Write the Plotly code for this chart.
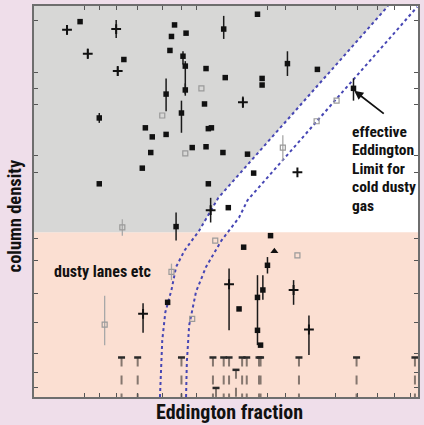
import numpy as np
import plotly.graph_objects as go

# Axis ranges: log Eddington fraction (x) and log column density (y)
X_MIN, X_MAX = -4.0, 1.0
Y_MIN, Y_MAX = 20.0, 24.75
NH_DUSTY = 22.0  # below this: dusty lanes etc.

# Effective Eddington limit for cold dusty gas (two dust/gas cases)
lim1_x = [-2.36, -2.33, -2.29, -2.21, -2.15, -2.04, -1.85, -1.60, 0.61]
lim1_y = [20.00, 20.69, 21.03, 21.30, 21.58, 21.78, 22.02, 22.42, 24.75]
lim2_x = [-2.02, -2.01, -1.98, -1.89, -1.76, -1.56, -1.33, -1.22, 0.99]
lim2_y = [20.00, 20.42, 20.87, 21.28, 21.58, 21.90, 22.18, 22.39, 24.74]

# Detections shown as filled squares: x, y, +err, -err
sq_x = [-3.40, -2.83, -3.15, -3.15, -2.17, -2.21, -2.02, -2.23, -2.06, -2.03,
        -2.03, -1.76, -2.28, -1.78, -2.08, -2.55, -2.46, -2.28, -2.48, -2.59,
        -1.94, -1.76, -1.73, -1.73, -1.09, -1.53, -0.70, -0.31, -1.51, -1.03,
        -1.03, -1.69, -1.54, -1.22, -1.14, -1.47, 0.16, -2.15, -0.92, -1.27,
        -0.96, -1.33, -2.26, -1.09, -1.02, -1.09, -1.05]
sq_y = [24.56, 24.10, 23.39, 22.59, 24.52, 24.38, 24.42, 24.21, 24.14, 24.02,
        23.73, 23.99, 23.68, 23.56, 23.45, 23.27, 23.16, 23.19, 22.97, 22.78,
        23.03, 23.04, 23.26, 22.59, 24.65, 24.47, 24.05, 23.98, 23.88, 23.87,
        23.79, 23.27, 22.97, 22.95, 22.72, 22.30, 23.75, 22.07, 21.96, 21.82,
        21.60, 21.07, 21.15, 21.21, 21.30, 20.81, 20.63]
sq_up = [0, 0, .06, 0, 0, 0, 0, 0, .06, .06,
         .08, 0, .19, 0, .15, 0, 0, 0, 0, 0,
         0, 0, 0, 0, 0, .16, .15, 0, 0, 0,
         0, 0, 0, 0, 0, 0, .12, .17, 0, 0,
         .10, 0, 0, .27, .18, 0, 0]
sq_dn = [0, 0, .06, 0, 0, 0, 0, 0, .10, .36,
         .05, 0, .21, 0, .24, 0, 0, 0, 0, 0,
         0, 0, 0, 0, 0, .12, .15, 0, 0, 0,
         0, 0, 0, 0, 0, 0, .15, .17, 0, 0,
         .10, 0, 0, .58, .12, 0, 0]

# Detections shown as crosses
cr_x = [-3.57, -2.93, -3.30, -2.91, -1.28, -0.57, -1.70, -1.46, -2.58, -0.62, -0.42]
cr_y = [24.46, 24.47, 24.17, 23.96, 23.58, 22.73, 22.27, 21.37, 21.01, 21.30, 20.82]
cr_up = [.06, .11, .06, .06, .07, 0, .15, .19, .13, .12, .17]
cr_dn = [.06, .11, .06, .06, .07, 0, .15, .56, .23, .18, .31]

tri_x = [-0.87]
tri_y = [21.77]

# Lower-quality sources (open grey symbols)
op_x = [-2.33, -1.82, -2.03, -2.85, -2.21, -1.94, -3.08, -0.76, -0.32, -0.06, -1.64, -0.57]
op_y = [23.42, 23.75, 22.96, 22.06, 21.52, 20.95, 20.88, 23.03, 23.35, 23.60, 21.90, 21.72]
op_up = [0, 0, 0, .10, .10, 0, .35, .15, 0, 0, 0, 0]
op_dn = [0, 0, 0, .10, .10, 0, .25, .16, 0, 0, 0, 0]

# Upper limits on column density
ul_x = [-2.86, -2.65, -2.08, -1.67, -1.53, -1.46, -1.29, -1.23, -1.07, -1.05,
        -0.55, 0.20, 0.96, -1.37, -1.63]
ul_y = [20.48, 20.48, 20.48, 20.48, 20.48, 20.48, 20.48, 20.48, 20.48, 20.48,
        20.48, 20.48, 20.48, 20.33, 20.11]

# Tick positions
x_ticks = [-3.34, -3.15, -2.93, -2.65, -2.33, -2.08, -1.89, -0.96, -0.72,
           -0.08, 0.21, 0.47, 0.70, 0.90]
y_ticks = [24.57, 23.94, 23.75, 23.55, 22.93, 22.73, 21.93, 21.66, 21.26,
           20.91, 20.53, 20.30, 20.11]

limit_label = ["effective", "Eddington", "Limit for", "cold dusty", "gas"]

NARROW = "Roboto Condensed, Liberation Sans Narrow, Roboto, sans-serif"

fig = go.Figure()

# Grey zone: dusty gas above the dusty-lane level, left of the limit curve
l1x = np.array(lim1_x)
l1y = np.array(lim1_y)
x_edge = float(np.interp(NH_DUSTY, l1y, l1x))
above = l1y > NH_DUSTY
poly_x = [X_MIN, X_MIN] + list(l1x[above][::-1]) + [x_edge, X_MIN]
poly_y = [NH_DUSTY, Y_MAX] + list(l1y[above][::-1]) + [NH_DUSTY, NH_DUSTY]
fig.add_trace(go.Scatter(x=poly_x, y=poly_y, mode="lines", fill="toself",
                         fillcolor="#d7d7d6", line=dict(width=0),
                         hoverinfo="skip", showlegend=False))

# Limit curves
for cx, cy in [(lim1_x, lim1_y), (lim2_x, lim2_y)]:
    fig.add_trace(go.Scatter(x=cx, y=cy, mode="lines",
                             line=dict(color="#4646b4", width=2, dash="dot"),
                             showlegend=False))

# Upper-limit drops to the bottom axis
drop_x, drop_y = [], []
for xv, yv in zip(ul_x, ul_y):
    drop_x += [xv, xv, None]
    drop_y += [yv, Y_MIN, None]
fig.add_trace(go.Scatter(x=drop_x, y=drop_y, mode="lines",
                         line=dict(color="#85776f", width=2, dash="dash"),
                         showlegend=False))
fig.add_trace(go.Scatter(x=ul_x, y=ul_y, mode="markers",
                         marker=dict(symbol="line-ew", size=5,
                                     line=dict(color="#2a2a2a", width=2.5)),
                         showlegend=False))

# Open grey symbols
fig.add_trace(go.Scatter(
    x=op_x, y=op_y, mode="markers",
    error_y=dict(type="data", symmetric=False, array=op_up, arrayminus=op_dn,
                 color="#a8a8a8", thickness=1.3, width=0),
    marker=dict(symbol="square-open", size=5, color="#9a9a9a",
                line=dict(width=1.2)),
    showlegend=False))

# Squares
fig.add_trace(go.Scatter(
    x=sq_x, y=sq_y, mode="markers",
    error_y=dict(type="data", symmetric=False, array=sq_up, arrayminus=sq_dn,
                 color="#1a1a1a", thickness=1.5, width=0),
    marker=dict(symbol="square", size=5.5, color="#111111"),
    showlegend=False))

# Crosses
fig.add_trace(go.Scatter(
    x=cr_x, y=cr_y, mode="markers",
    error_y=dict(type="data", symmetric=False, array=cr_up, arrayminus=cr_dn,
                 color="#1a1a1a", thickness=1.5, width=0),
    marker=dict(symbol="cross-thin", size=7, color="#111111",
                line=dict(color="#111111", width=2)),
    showlegend=False))

fig.add_trace(go.Scatter(x=tri_x, y=tri_y, mode="markers",
                         marker=dict(symbol="triangle-up", size=7, color="#111111"),
                         showlegend=False))

# Dusty-lane band
fig.add_shape(type="rect", xref="paper", yref="y", x0=0, x1=1,
              y0=Y_MIN, y1=NH_DUSTY, fillcolor="#fbdfd2", line=dict(width=0),
              layer="below")

# Labels
fig.add_annotation(x=-3.77, y=21.52, xref="x", yref="y", xanchor="left",
                   text="<b>dusty lanes etc</b>", showarrow=False,
                   font=dict(family=NARROW, size=16, color="#111111"))
fig.add_annotation(x=0.17, y=23.72, xref="x", yref="y",
                   ax=31, ay=24, axref="pixel", ayref="pixel",
                   text="", showarrow=True, arrowhead=2, arrowsize=1,
                   arrowwidth=1.8, arrowcolor="#111111")
for i, line in enumerate(limit_label):
    fig.add_annotation(x=0.11, y=23.22, xref="x", yref="y", xanchor="left",
                       yanchor="middle", yshift=-18.4 * i,
                       text="<b>" + line + "</b>", showarrow=False,
                       font=dict(family=NARROW, size=15.5, color="#111111"))

# Axis titles
fig.add_annotation(x=0.51, y=-0.038, xref="paper", yref="paper",
                   xanchor="center", yanchor="middle",
                   text="<b>Eddington fraction</b>", showarrow=False,
                   font=dict(family=NARROW, size=20, color="#111111"))
fig.add_annotation(x=-0.05, y=0.464, xref="paper", yref="paper",
                   xanchor="center", yanchor="middle", textangle=-90,
                   text="<b>column density</b>", showarrow=False,
                   font=dict(family=NARROW, size=18.5, color="#111111"))

axis_common = dict(showgrid=False, zeroline=False, showticklabels=False,
                   ticks="inside", ticklen=4, tickwidth=1.2, tickcolor="#555555",
                   showline=True, linecolor="#6e6e6e", linewidth=1.6, mirror="ticks")

fig.update_xaxes(range=[X_MIN, X_MAX], tickvals=x_ticks, **axis_common)
fig.update_yaxes(range=[Y_MIN, Y_MAX], tickvals=y_ticks, **axis_common)

fig.update_layout(width=424, height=425,
                  margin=dict(l=34, r=4, t=5, b=28),
                  paper_bgcolor="#efdeea", plot_bgcolor="#ffffff",
                  showlegend=False)

fig.write_html("out.html")
